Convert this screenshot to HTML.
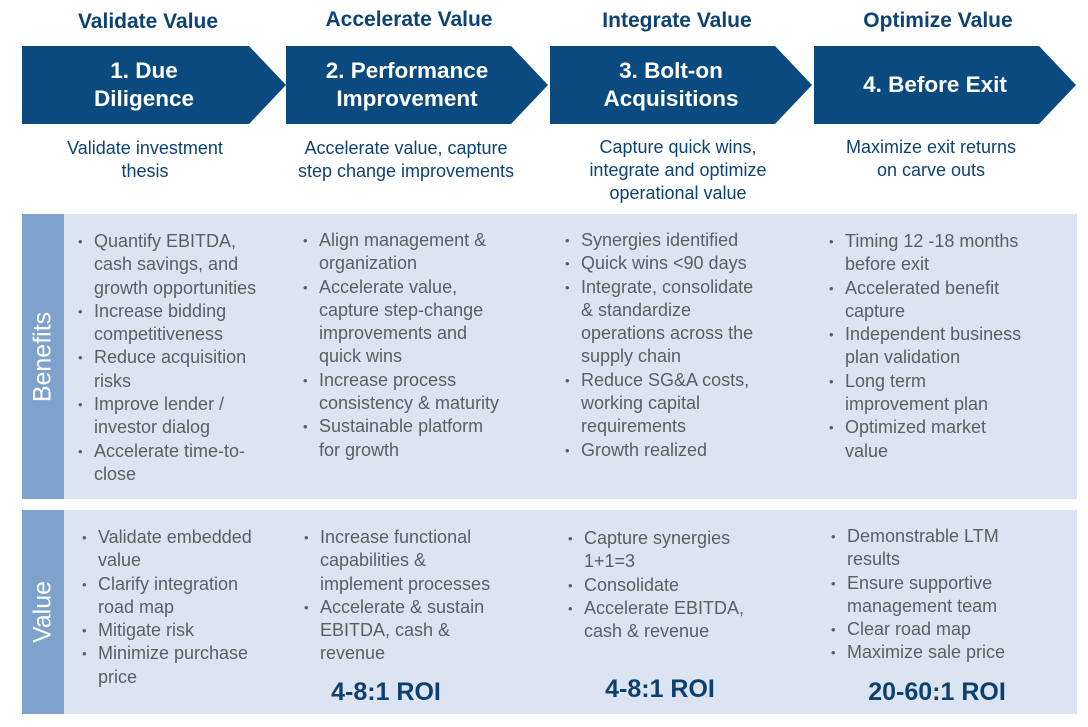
<!DOCTYPE html>
<html><head><meta charset="utf-8"><style>
body{margin:0;width:1088px;height:727px;background:#fff;position:relative;overflow:hidden;font-family:"Liberation Sans",sans-serif}
.a{position:absolute}
.h{color:#0d4274;font-weight:bold;font-size:21px;text-align:center;width:260px}
.arrow{position:absolute;top:46px;height:78px;background:#0a4a7e;clip-path:polygon(0 0,calc(100% - 37px) 0,100% 50%,calc(100% - 37px) 100%,0 100%);color:#fff;font-weight:bold;font-size:22.5px;line-height:28px;display:flex;align-items:center;justify-content:center;text-align:center;padding-right:20px;box-sizing:border-box}
.sub{color:#0d4274;font-size:18px;line-height:23px;text-align:center;width:270px;top:137px}
.panel{position:absolute;left:22px;width:1055px;background:#dbe4f0}
.strip{position:absolute;left:22px;width:42px;background:#7ea2cc}
.strip span{position:absolute;left:50%;top:50%;transform:translate(-50%,-50%) rotate(-90deg);color:#fff;font-size:25px;white-space:nowrap}
ul{position:absolute;margin:0;padding:0;list-style:none;color:#5a5f66;font-size:18px;line-height:23.3px}
li{position:relative;padding-left:16px}
li:before{content:"•";position:absolute;left:0;font-size:13px}
.roi{position:absolute;top:676px;color:#0d3f6f;font-weight:bold;font-size:25px;text-align:center;width:240px}
</style></head><body>
<div class="a h" style="left:18px;top:10px">Validate Value</div>
<div class="a h" style="left:279px;top:8px">Accelerate Value</div>
<div class="a h" style="left:547px;top:9px">Integrate Value</div>
<div class="a h" style="left:808px;top:9px">Optimize Value</div>

<div class="arrow" style="left:22px;width:264px">1. Due<br>Diligence</div>
<div class="arrow" style="left:286px;width:262px">2. Performance<br>Improvement</div>
<div class="arrow" style="left:550px;width:262px">3. Bolt-on<br>Acquisitions</div>
<div class="arrow" style="left:814px;width:262px">4. Before Exit</div>

<div class="a sub" style="left:10px">Validate investment<br>thesis</div>
<div class="a sub" style="left:271px">Accelerate value, capture<br>step change improvements</div>
<div class="a sub" style="left:543px;top:136px">Capture quick wins,<br>integrate and optimize<br>operational value</div>
<div class="a sub" style="left:796px;top:136px">Maximize exit returns<br>on carve outs</div>

<div class="panel" style="top:214px;height:285px"></div>
<div class="strip" style="top:214px;height:285px"><span>Benefits</span></div>
<div class="panel" style="top:510px;height:204px"></div>
<div class="strip" style="top:510px;height:204px"><span>Value</span></div>

<ul style="left:78px;top:230px"><li>Quantify EBITDA,<br>cash savings, and<br>growth opportunities</li><li>Increase bidding<br>competitiveness</li><li>Reduce acquisition<br>risks</li><li>Improve lender /<br>investor dialog</li><li>Accelerate time-to-<br>close</li></ul>
<ul style="left:303px;top:229px"><li>Align management &amp;<br>organization</li><li>Accelerate value,<br>capture step-change<br>improvements and<br>quick wins</li><li>Increase process<br>consistency &amp; maturity</li><li>Sustainable platform<br>for growth</li></ul>
<ul style="left:565px;top:229px"><li>Synergies identified</li><li>Quick wins &lt;90 days</li><li>Integrate, consolidate<br>&amp; standardize<br>operations across the<br>supply chain</li><li>Reduce SG&amp;A costs,<br>working capital<br>requirements</li><li>Growth realized</li></ul>
<ul style="left:829px;top:230px"><li>Timing 12 -18 months<br>before exit</li><li>Accelerated benefit<br>capture</li><li>Independent business<br>plan validation</li><li>Long term<br>improvement plan</li><li>Optimized market<br>value</li></ul>

<ul style="left:82px;top:526px"><li>Validate embedded<br>value</li><li>Clarify integration<br>road map</li><li>Mitigate risk</li><li>Minimize purchase<br>price</li></ul>
<ul style="left:304px;top:526px"><li>Increase functional<br>capabilities &amp;<br>implement processes</li><li>Accelerate &amp; sustain<br>EBITDA, cash &amp;<br>revenue</li></ul>
<ul style="left:568px;top:527px"><li>Capture synergies<br>1+1=3</li><li>Consolidate</li><li>Accelerate EBITDA,<br>cash &amp; revenue</li></ul>
<ul style="left:831px;top:525px"><li>Demonstrable LTM<br>results</li><li>Ensure supportive<br>management team</li><li>Clear road map</li><li>Maximize sale price</li></ul>

<div class="roi" style="left:266px;top:678px">4-8:1 ROI</div>
<div class="roi" style="left:540px;top:675px">4-8:1 ROI</div>
<div class="roi" style="left:817px;top:678px">20-60:1 ROI</div>
</body></html>
